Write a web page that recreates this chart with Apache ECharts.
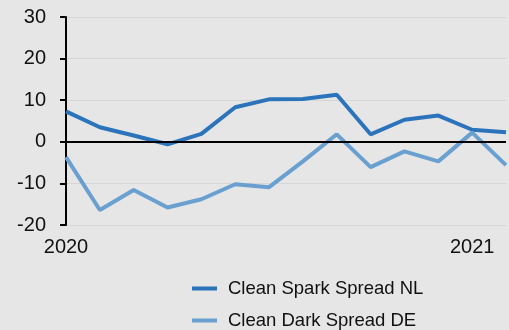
<!DOCTYPE html>
<html>
<head>
<meta charset="utf-8">
<script src="https://cdn.jsdelivr.net/npm/echarts@6/dist/echarts.min.js"></script>
<style>
  html, body { margin: 0; padding: 0; background: #e6e6e6; }
  #chart { width: 509px; height: 330px; }
</style>
</head>
<body>
<div id="chart"></div>
<script>
// Monthly spreads (EUR/MWh), Jan 2020 onwards
const months = ['2020', '', '', '', '', '', '', '', '', '', '', '', '2021', ''];
const sparkSpreadNL = [7.3, 3.5, 1.5, -0.6, 1.9, 8.3, 10.2, 10.3, 11.3, 1.8, 5.3, 6.3, 2.9, 2.3];
const darkSpreadDE = [-3.7, -16.4, -11.6, -15.8, -13.8, -10.2, -10.9, -4.7, 1.8, -6.1, -2.3, -4.7, 2.2, -5.6];
const yTicks = { min: -20, max: 30, step: 10 };

const font = '"Liberation Sans", Arial, sans-serif';
const chart = echarts.init(document.getElementById('chart'), null, { renderer: 'canvas' });

chart.setOption({
  backgroundColor: '#e6e6e6',
  animation: false,
  grid: { left: 66, top: 17, width: 455, height: 208, containLabel: false },
  xAxis: {
    type: 'category',
    data: months,
    boundaryGap: false,
    axisLine: { show: false, onZero: false },
    axisTick: { show: false },
    splitLine: { show: false },
    axisLabel: {
      interval: 0,
      margin: 12,
      color: '#111',
      fontFamily: font,
      fontSize: 20
    }
  },
  yAxis: {
    type: 'value',
    min: yTicks.min,
    max: yTicks.max,
    interval: yTicks.step,
    axisLine: { show: true, onZero: false, lineStyle: { color: '#000', width: 2 } },
    axisTick: { show: true, length: 6, lineStyle: { color: '#000', width: 2 } },
    splitLine: { show: true, lineStyle: { color: '#d6d6d6', width: 1 } },
    axisLabel: {
      margin: 20,
      color: '#111',
      fontFamily: font,
      fontSize: 20
    }
  },
  legend: {
    orient: 'vertical',
    left: 192,
    top: 279,
    padding: 0,
    itemWidth: 25,
    itemHeight: 4,
    itemGap: 13,
    icon: 'rect',
    textStyle: { color: '#111', fontFamily: font, fontSize: 18.5, padding: [0, 0, 0, 6] },
    data: ['Clean Spark Spread NL', 'Clean Dark Spread DE']
  },
  series: [
    {
      name: 'Clean Spark Spread NL',
      type: 'line',
      data: sparkSpreadNL,
      symbol: 'none',
      color: '#2b74bb',
      lineStyle: { width: 4, color: '#2b74bb' },
      markLine: {
        silent: true,
        symbol: 'none',
        label: { show: false },
        lineStyle: { color: '#000', width: 2, type: 'solid' },
        data: [{ yAxis: 0 }]
      }
    },
    {
      name: 'Clean Dark Spread DE',
      type: 'line',
      data: darkSpreadDE,
      symbol: 'none',
      color: '#6aa0d0',
      lineStyle: { width: 4, color: '#6aa0d0' }
    }
  ]
});
</script>
</body>
</html>
